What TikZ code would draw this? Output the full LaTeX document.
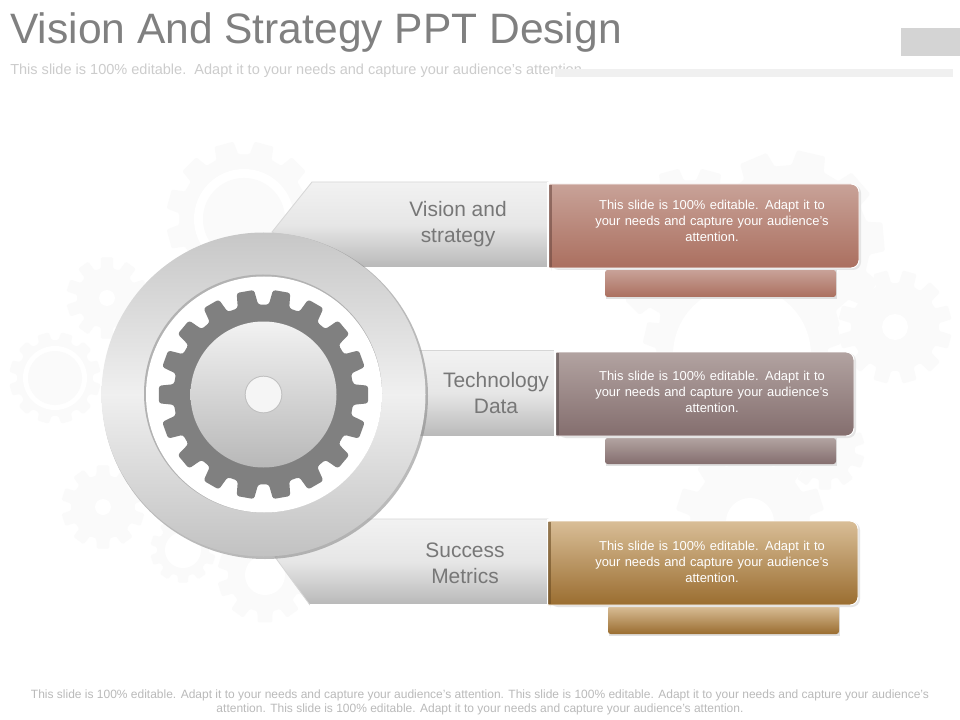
\documentclass[tikz,border=0pt]{standalone}
\usepackage{fontspec}
\setmainfont{Liberation Sans}
\newcommand{\cogshape}[7]{% style cx cy rroot router n phase
  \pgfmathsetmacro{\gp}{360/#6}
  \pgfmathsetmacro{\ga}{0.33*\gp}
  \pgfmathsetmacro{\gb}{0.24*\gp}
  \pgfmathtruncatemacro{\gn}{#6-1}
  \fill[#1] ({#2+#4*cos(#7-\ga)},{#3+#4*sin(#7-\ga)})
  \foreach \k in {0,...,\gn}{
    -- ({#2+#5*cos(#7+\k*\gp-\gb)},{#3+#5*sin(#7+\k*\gp-\gb)})
    -- ({#2+#5*cos(#7+\k*\gp+\gb)},{#3+#5*sin(#7+\k*\gp+\gb)})
    -- ({#2+#4*cos(#7+\k*\gp+\ga)},{#3+#4*sin(#7+\k*\gp+\ga)})
    -- ({#2+#4*cos(#7+\k*\gp+\gp-\ga)},{#3+#4*sin(#7+\k*\gp+\gp-\ga)})
  } -- cycle;}
\definecolor{bggear}{HTML}{FAFAFA}
\definecolor{RoseT}{HTML}{C8A298}\definecolor{RoseB}{HTML}{AB6F5F}
\definecolor{MauveT}{HTML}{B2A3A1}\definecolor{MauveB}{HTML}{846E6E}
\definecolor{TanT}{HTML}{D9BE97}\definecolor{TanB}{HTML}{9A6D30}
\definecolor{Lab}{HTML}{777777}
\definecolor{BanB}{HTML}{B8B8B8}\definecolor{BanT}{HTML}{F2F2F2}
\definecolor{BanM}{HTML}{E6E6E6}\definecolor{BanE}{HTML}{D6D6D6}
\tikzset{
  px/.style={x=0.75pt,y=-0.75pt},
  bggearfill/.style={fill=bggear,draw=none,rounded corners=1pt},
  banner/.style={bottom color=BanB,top color=BanT,middle color=BanM,draw=BanE,line width=0.6pt},
  rose/.style={top color=RoseT,bottom color=RoseB},
  mauve/.style={top color=MauveT,bottom color=MauveB},
  tan/.style={top color=TanT,bottom color=TanB},
  infotext/.style={text=white,font=\fontsize{9.7pt}{12pt}\selectfont,align=center,text width=200pt,inner sep=0pt},
  labeltext/.style={text=Lab,font=\fontsize{15.7pt}{19.5pt}\selectfont,align=center,inner sep=0pt},
}
\begin{document}
\begin{tikzpicture}[px]
\useasboundingbox (0,0) rectangle (960,720);
\fill[white] (0,0) rectangle (960,720);
% background gears
\cogshape{bggearfill}{244}{219}{65}{78}{12}{15}
\fill[white] (244,219) circle (50); \fill[bggear] (244,219) circle (41);
\cogshape{bggearfill}{107}{298}{30}{41}{10}{18}
\fill[white] (107,298) circle (8);
\cogshape{bggearfill}{55}{378}{38}{46}{12}{15}
\fill[white] (55,378) circle (32); \fill[bggear] (55,378) circle (27);
\cogshape{bggearfill}{103}{507}{32}{42}{10}{18}
\fill[white] (103,507) circle (8);
\cogshape{bggearfill}{183}{550}{26}{33}{10}{18}
\fill[white] (183,550) circle (18);
\cogshape{bggearfill}{265}{575}{37}{48}{10}{18}
\fill[white] (265,575) circle (20);
\cogshape{bggearfill}{895}{327}{44}{57}{12}{15}
\fill[white] (895,327) circle (13);
\cogshape{bggearfill}{790}{245}{80}{95}{10}{-5}
\fill[white] (790,245) circle (55);
\cogshape{bggearfill}{690}{250}{70}{82}{12}{15}
\fill[white] (690,250) circle (40);
\cogshape{bggearfill}{742}{355}{86}{100}{14}{13}
\fill[white] (742,355) circle (69);
\cogshape{bggearfill}{750}{522}{60}{75}{10}{18}
\fill[white] (750,522) circle (24);
\cogshape{bggearfill}{825}{450}{30}{40}{10}{18}
\fill[white] (825,450) circle (10);
% title block
\node[anchor=base west,inner sep=0pt,text=black!50,font=\fontsize{31.9pt}{36pt}\selectfont] (title) at (10,44) {Vision And Strategy PPT Design};
\node[anchor=base west,inner sep=0pt,text=black!20,font=\fontsize{10.9pt}{12pt}\selectfont] (subtitle) at (10,74.5) {This slide is 100\% editable.\ \ Adapt it to your needs and capture your audience's attention.};
\fill[black!6] (555,69) rectangle (953,77);
\fill[black!17] (901,28) rectangle (960,56);
% banners
\path[banner] (312,182) -- (548,182) -- (548,268) -- (340,268) -- (272,232) -- cycle;
\path[banner] (400,350) -- (555,350) -- (555,437) -- (400,437) -- cycle;
\path[banner] (360,519) -- (548,519) -- (548,605) -- (310,605) -- (275,557) -- cycle;
\draw[white,line width=0.8pt] (360,268) -- (548,268) -- (548,182);
\draw[white,line width=0.8pt] (420,437) -- (555,437) -- (555,350);
\draw[white,line width=0.8pt] (310,605) -- (548,605) -- (548,519);
% colour boxes
\foreach \xa/\xb/\ya/\yb/\sa/\sb/\sc/\sd/\st/\dk in {
  549/859/184/268/605/836/270/297/rose/6E4A42,
  556/854/352/436/605/836/438/464/mauve/574A4A,
  548/858/521/605/608/839/606/634/tan/6B4C22}{
  \fill[black!12] (\sa+1,\sc) rectangle (\sb+1,\sd+2);
  \path[\st,rounded corners=2pt] (\sa,\sc) rectangle (\sb,\sd);
  \fill[black!10,rounded corners=6pt] (\xb-20,\ya+1) -- (\xb+2,\ya+1) -- (\xb+2,\yb+2) -- (\xa+2,\yb+2) -- (\xa+2,\yb-5) -- cycle;
  \path[\st,draw=white,line width=0.7pt] (\xa,\ya) [rounded corners=6pt] -- (\xb,\ya) -- (\xb,\yb) [sharp corners] -- (\xa,\yb) -- cycle;
  \definecolor{edgecol}{HTML}{\dk}
  \fill[edgecol,opacity=0.6] (\xa,\ya+1) rectangle (\xa+3,\yb-1);
}
\node[infotext] (t1) at (712,221) {This slide is 100\% editable. Adapt it to\\your needs and capture your audience's\\attention.};
\node[infotext] (t2) at (712,392) {This slide is 100\% editable. Adapt it to\\your needs and capture your audience's\\attention.};
\node[infotext] (t3) at (712,562) {This slide is 100\% editable. Adapt it to\\your needs and capture your audience's\\attention.};
\node[labeltext] (l1) at (458,224.5) {Vision and\\strategy};
\node[labeltext] (l2) at (496,393) {Technology\\Data};
\node[labeltext] (l3) at (465,563) {Success\\Metrics};
% main wheel
\fill[black!45,opacity=0.6] (265,396) circle (163);
\shade[top color=black!22,bottom color=black!24,middle color=black!6] (263.5,394.5) circle (162);
\fill[black!30] (263,393.5) circle (119);
\fill[white] (264,394.5) circle (118);
\cogshape{black!50,rounded corners=2pt}{263.5}{394.5}{90}{105}{18}{0}
\shade[top color=BanT,bottom color=BanB] (263.5,394.5) circle (73);
\fill[black!25] (263.5,394.5) circle (18.8);
\fill[black!4] (263.5,394.5) circle (17.8);
% footer
\node[anchor=center,inner sep=0pt,text=black!27,align=center,font=\fontsize{9pt}{10.6pt}\selectfont] (footer) at (480,702.5) {This slide is 100\% editable. Adapt it to your needs and capture your audience's attention. This slide is 100\% editable. Adapt it to your needs and capture your audience's\\attention. This slide is 100\% editable. Adapt it to your needs and capture your audience's attention.};
\end{tikzpicture}
\end{document}
